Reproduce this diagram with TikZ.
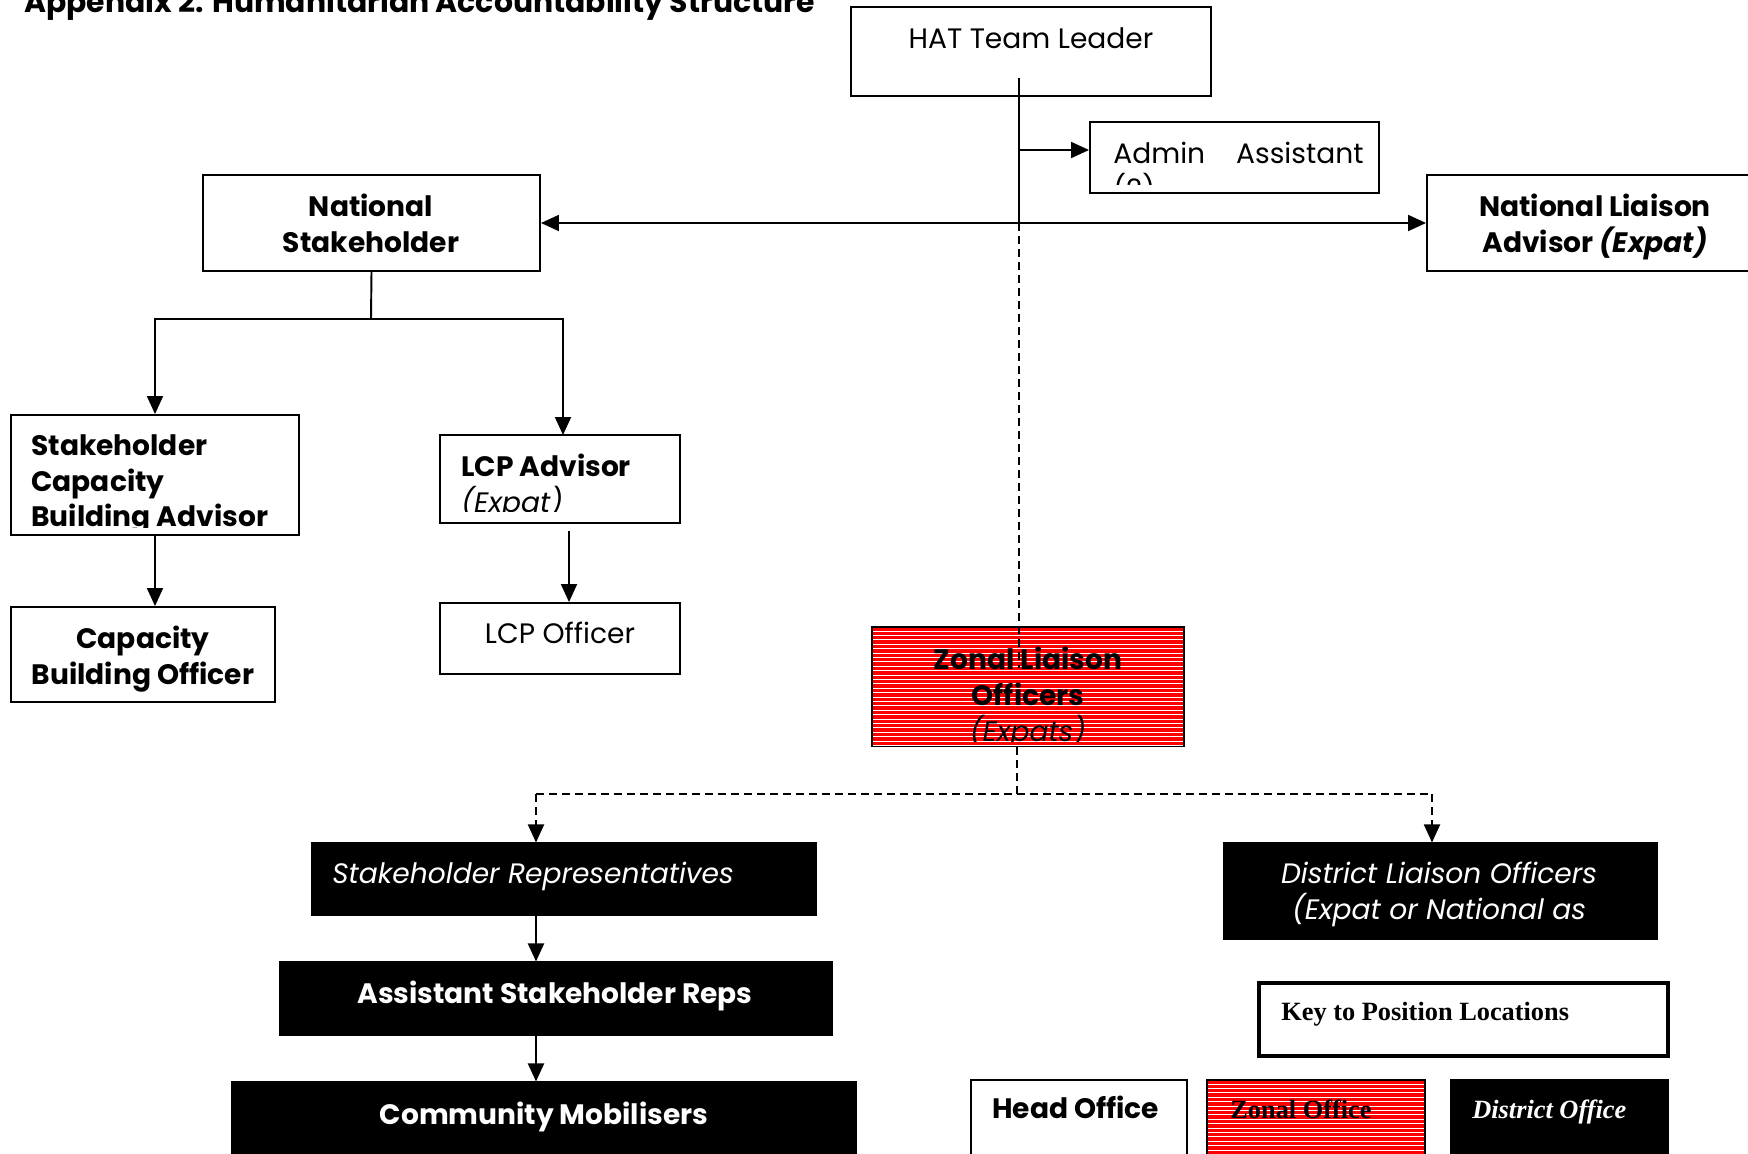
\documentclass[tikz,border=0pt]{standalone}
\usepackage{fontspec}
\setmainfont{Poppins}
\newfontfamily\keyfont{Liberation Serif}
\usetikzlibrary{fit,arrows.meta}

\tikzset{
  box/.style={draw, line width=1.1pt, inner sep=0pt, fill=white},
  darkbox/.style={draw, line width=0.6pt, fill=black, inner sep=0pt},
  redbox/.style={draw, line width=1pt, fill=red, inner sep=0pt},
  keybox/.style={draw, line width=2pt, inner sep=0pt, fill=white},
  lbl/.style={inner sep=0pt, font=\fontsize{16}{20.4}\selectfont},
  keylbl/.style={inner sep=0pt, font=\keyfont\fontsize{15}{18}\selectfont\bfseries},
  line/.style={line width=1.1pt},
  link/.style={line, -{Triangle[width=0.32cm,length=0.36cm]}},
  dlink/.style={link, dash pattern=on 0.16cm off 0.1cm},
  stripe/.style={white, line width=0.4pt},
}

\begin{document}
\begin{tikzpicture}[x=0.02cm, y=-0.02cm]
\path[use as bounding box, fill=white] (0,0) rectangle (1748,1153);

% title, cut off by the page top
\node[lbl, font=\fontsize{17}{20}\selectfont\bfseries, anchor=base west] (title) at (24,12) {Appendix 2. Humanitarian Accountability Structure};

% head office
\node[box, fit={(851,7) (1211,96)}] (hat) {};
\node[lbl, anchor=base] (hattxt) at (1031,48) {HAT Team Leader};
\node[box, fit={(1090,122) (1379,193)}] (admin) {};
\begin{scope}
\clip (1092,124) rectangle (1377,184);
\node[lbl, anchor=north west, align=left] (admintxt) at (1113,142) {Admin\hspace{0.62cm}Assistant\\(2)};
\end{scope}
\node[box, fit={(203,175) (540,271)}] (ns) {};
\node[lbl, anchor=north, align=center, font=\fontsize{16}{20.4}\selectfont\bfseries] (nstxt) at (371,194) {National\\Stakeholder};
\node[box, fit={(1427,175) (1780,271)}] (nla) {};
\node[lbl, anchor=north, align=center, font=\fontsize{16}{20.4}\selectfont\bfseries] (nlatxt) at (1595,194) {National Liaison\\Advisor \textit{(Expat)}};

\node[box, fit={(11,415) (299,535)}] (scba) {};
\begin{scope}
\clip (13,417) rectangle (297,527);
\node[lbl, anchor=north west, align=left, font=\fontsize{16}{20.4}\selectfont\bfseries] (scbatxt) at (31,434) {Stakeholder\\Capacity\\Building Advisor};
\end{scope}
\node[box, fit={(11,607) (275,702)}] (cbo) {};
\node[lbl, anchor=north, align=center, font=\fontsize{16}{20.4}\selectfont\bfseries] (cbotxt) at (143,626) {Capacity\\Building Officer};

\node[box, fit={(440,435) (680,523)}] (lcpa) {};
\begin{scope}
\clip (442,437) rectangle (678,511);
\node[lbl, anchor=north west, align=left] (lcpatxt) at (461,454) {\textbf{LCP Advisor}\\\textit{(Expat)}};
\end{scope}
\node[box, fit={(440,603) (680,674)}] (lcpo) {};
\node[lbl, anchor=base] (lcpotxt) at (560,643) {LCP Officer};

% zonal office
\node[redbox, fit={(872,627) (1184,746)}] (zon) {};
\begin{scope}
\clip (zon.north west) rectangle (zon.south east);
\foreach \yy in {631,635.4,...,746} \draw[stripe] (873,\yy) -- (1183,\yy);
\end{scope}
\begin{scope}
\clip (874,629) rectangle (1182,741);
\node[lbl, anchor=north, align=center, font=\fontsize{16}{20.4}\selectfont\bfseries] (zontxt) at (1028,647) {Zonal Liaison\\Officers\\\mdseries\itshape (Expats)};
\end{scope}

% district office
\node[darkbox, fit={(312,843) (816,915)}] (sr) {};
\node[lbl, anchor=base west, white, font=\fontsize{16}{20.4}\selectfont\itshape] (srtxt) at (332,883) {Stakeholder Representatives};
\node[darkbox, fit={(280,962) (832,1035)}] (asr) {};
\node[lbl, anchor=base, white, font=\fontsize{16}{20.4}\selectfont\bfseries] (asrtxt) at (555,1003) {Assistant Stakeholder Reps};
\node[darkbox, fit={(232,1082) (856,1180)}] (cm) {};
\node[lbl, anchor=base, white, font=\fontsize{16}{20.4}\selectfont\bfseries] (cmtxt) at (544,1124) {Community Mobilisers};
\node[darkbox, fit={(1224,843) (1657,939)}] (dlo) {};
\node[lbl, anchor=north, align=center, white, font=\fontsize{16}{20.4}\selectfont\itshape] (dlotxt) at (1439,862) {District Liaison Officers\\(Expat or National as};

% key
\node[keybox, fit={(1259,983) (1668,1056)}] (key) {};
\node[keylbl, anchor=base west] (keytxt) at (1281,1020) {Key to Position Locations};
\node[box, fit={(971,1080) (1187,1180)}] (ho) {};
\node[lbl, anchor=base west, font=\fontsize{16}{20.4}\selectfont\bfseries] (hotxt) at (992,1118) {Head Office};
\node[redbox, fit={(1207,1080) (1425,1180)}] (zo) {};
\begin{scope}
\clip (zo.north west) rectangle (zo.south east);
\foreach \yy in {1084,1088.4,...,1160} \draw[stripe] (1208,\yy) -- (1424,\yy);
\end{scope}
\node[keylbl, anchor=base west] (zotxt) at (1230,1118) {Zonal Office};
\node[darkbox, fit={(1451,1080) (1668,1180)}] (do) {};
\node[keylbl, anchor=base west, white, font=\keyfont\fontsize{15}{18}\selectfont\bfseries\itshape] (dotxt) at (1472,1118) {District Office};

% connectors
\coordinate (hatstem) at (1019,78);
\coordinate (hub) at (1019,223);
\coordinate (adm) at (1019,150);
\coordinate (zonmid) at (1019,668);
\draw[line] (hatstem) -- (hub);
\draw[link] (adm) -- (adm -| admin.west);
\draw[line, {Triangle[width=0.32cm,length=0.36cm]}-{Triangle[width=0.32cm,length=0.36cm]}] (ns.east) -- (nla.west);
\draw[dlink, -] (hub) -- (zonmid);

\coordinate (nsfork) at (371,319);
\draw[line] (ns.south) -- (nsfork);
\draw[link] (nsfork) -| (scba.north);
\draw[link] (nsfork) -| (563,435);
\draw[link] (scba.south) -- (scba.south |- cbo.north);
\coordinate (lcpgap) at (569,531);
\draw[link] (lcpgap) -- (lcpgap |- lcpo.north);

\coordinate (zfork) at (1017,794);
\coordinate (zl) at (536,794);
\coordinate (zr) at (1432,794);
\draw[dlink, -] (zfork |- zon.south) -- (zfork);
\draw[dlink, -] (zl) -- (zr);
\draw[dlink] (zl) -- (zl |- sr.north);
\draw[dlink] (zr) -- (zr |- dlo.north);
\draw[link] (zl |- sr.south) -- (zl |- asr.north);
\draw[link] (zl |- asr.south) -- (zl |- cm.north);
\end{tikzpicture}
\end{document}
